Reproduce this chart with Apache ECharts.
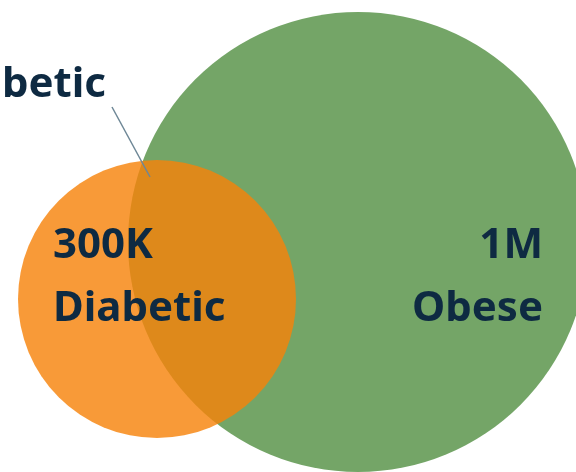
<!DOCTYPE html>
<html><head><meta charset="utf-8">
<script src="https://cdn.jsdelivr.net/npm/echarts@6/dist/echarts.min.js"></script>
<style>html,body{margin:0;padding:0;background:#fff}#c{width:576px;height:472px}</style>
</head><body><div id="c"></div>
<script>
// Data
var setNames = ['Obese', 'Diabetic'];
var setValues = ['1M', '300K'];
var overlapLabel = 'Diabetic';

// Layout (pixel-space coordinates on hidden axes)
var layout = {
  centers: [[358, 242], [157, 299]],
  radii: [230, 139],
  colors: ['#74A567', '#F6820A'],
  opacity: [1, 0.81],
  labelX: [[543, 'right'], [53, 'left']],
  rowTops: [225, 288],
  overlapText: [106, 64],
  leader: [[112, 107], [150, 177]]
};
var textColor = '#0E2A42';
var font = '"Noto Sans"';
var fs = 42;

var chart = echarts.init(document.getElementById('c'));
var series = setNames.map(function (n, i) {
  return {
    type: 'scatter',
    name: n,
    z: 2 + i,
    symbol: 'circle',
    symbolSize: layout.radii[i] * 2,
    itemStyle: { color: layout.colors[i], opacity: layout.opacity[i] },
    silent: true,
    data: [layout.centers[i]]
  };
});
function txt(s, x, y, align) {
  return { type: 'text', z: 10, x: x, y: y,
    style: { text: s, x: 0, y: 0, fill: textColor, font: 'bold ' + fs + 'px ' + font, textAlign: align, textVerticalAlign: 'top' } };
}
var graphics = [];
setNames.forEach(function (n, i) {
  var p = layout.labelX[i];
  graphics.push(txt(setValues[i], p[0], layout.rowTops[0], p[1]));
  graphics.push(txt(n, p[0], layout.rowTops[1], p[1]));
});
graphics.push(txt(overlapLabel, layout.overlapText[0], layout.overlapText[1], 'right'));
graphics.push({
  type: 'line', z: 10,
  shape: { x1: layout.leader[0][0], y1: layout.leader[0][1], x2: layout.leader[1][0], y2: layout.leader[1][1] },
  style: { stroke: '#6E8796', lineWidth: 1.5 }
});
chart.setOption({
  animation: false,
  grid: { left: 0, right: 0, top: 0, bottom: 0 },
  xAxis: { type: 'value', min: 0, max: 576, show: false },
  yAxis: { type: 'value', min: 0, max: 472, inverse: true, show: false },
  series: series,
  graphic: graphics
});
</script></body></html>
